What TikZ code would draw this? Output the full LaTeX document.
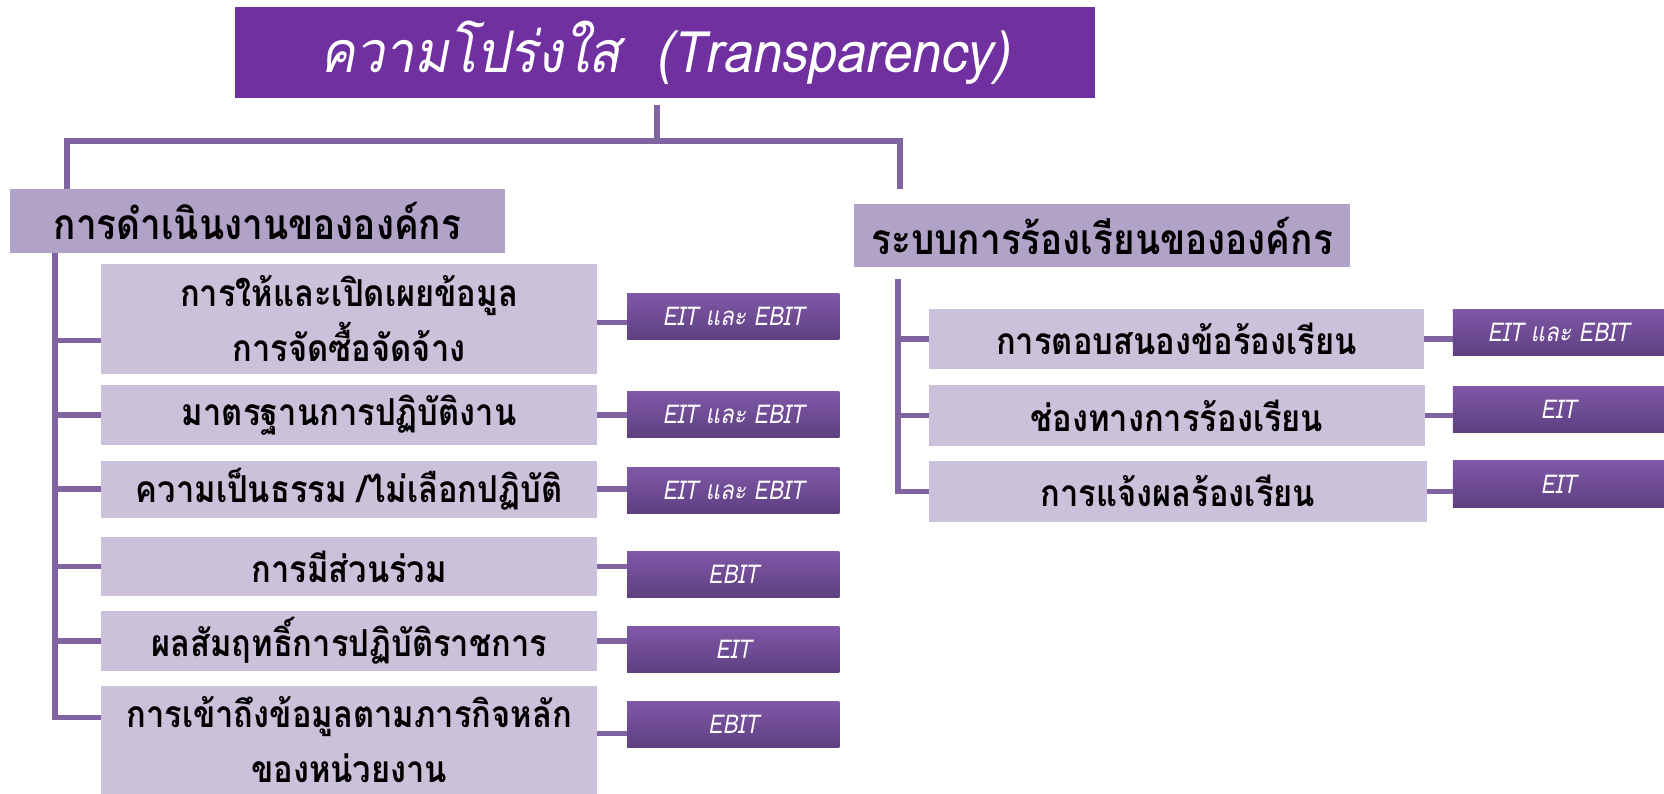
\documentclass[tikz,border=0pt]{standalone}
\usepackage{fontspec}
\newfontfamily\thaititle[Script=Thai,FakeStretch=0.91]{Loma}
\newfontfamily\thaigroup[Script=Thai,FakeStretch=0.87]{Loma}
\newfontfamily\thaiitem[Script=Thai,FakeStretch=0.88]{Loma}
\newfontfamily\thaitag[Script=Thai,FakeStretch=0.87]{Loma}
\usetikzlibrary{calc}
\definecolor{titlefill}{RGB}{112,48,160}
\definecolor{groupfill}{RGB}{177,162,199}
\definecolor{itemfill}{RGB}{204,193,218}
\definecolor{linecol}{RGB}{128,100,162}
\definecolor{tagtop}{RGB}{127,88,168}
\definecolor{tagbot}{RGB}{94,64,128}
\tikzset{
  bx/.style={inner sep=0pt, outer sep=0pt, align=center},
  titlebox/.style={bx, fill=titlefill, text=white, font=\thaititle\itshape\fontsize{27}{30}\selectfont},
  groupbox/.style={bx, fill=groupfill, text=black, font=\thaigroup\bfseries\fontsize{20}{24}\selectfont},
  itembox/.style={bx, fill=itemfill, text=black, font=\thaiitem\bfseries\fontsize{17.5}{26}\selectfont},
  tagbox/.style={bx, top color=tagtop, bottom color=tagbot, text=white, font=\thaitag\itshape\fontsize{12.2}{13}\selectfont, minimum width=100pt, minimum height=21.75pt},
  conn/.style={draw=linecol, line width=2.6pt}
}
\begin{document}
\begin{tikzpicture}[x=0.5pt,y=-0.5pt]
\useasboundingbox (0,0) rectangle (1568,748);
% title
\node[titlebox, minimum width=405.5pt, minimum height=42.5pt] (T) at (626.5,49.5) {ความโปร่งใส\ \ (Transparency)};
% groups
\node[groupbox, minimum width=233.5pt, minimum height=30pt] (LG) at (242.5,208) {การดำเนินงานขององค์กร};
\node[groupbox, minimum width=233.5pt, minimum height=30pt] (RG) at (1038.5,222) {ระบบการร้องเรียนขององค์กร};
% left items
\node[itembox, minimum width=234pt, minimum height=51.5pt] (L1) at (329,300.5) {การให้และเปิดเผยข้อมูล\\การจัดซื้อจัดจ้าง};
\node[itembox, minimum width=234pt, minimum height=28pt] (L2) at (329,391) {มาตรฐานการปฏิบัติงาน};
\node[itembox, minimum width=234pt, minimum height=27pt] (L3) at (329,461) {ความเป็นธรรม /ไม่เลือกปฏิบัติ};
\node[itembox, minimum width=234pt, minimum height=28pt] (L4) at (329,534) {การมีส่วนร่วม};
\node[itembox, minimum width=234pt, minimum height=28pt] (L5) at (329,604) {ผลสัมฤทธิ์การปฏิบัติราชการ};
\node[itembox, minimum width=234pt, minimum height=51pt] (L6) at (329,697) {การเข้าถึงข้อมูลตามภารกิจหลัก\\ของหน่วยงาน};
% left tags
\node[tagbox] (E1) at (691,298.5) {EIT และ EBIT};
\node[tagbox] (E2) at (691,390.5) {EIT และ EBIT};
\node[tagbox] (E3) at (691,462) {EIT และ EBIT};
\node[tagbox] (E4) at (691,541) {EBIT};
\node[tagbox] (E5) at (691,612) {EIT};
\node[tagbox] (E6) at (691,683) {EBIT};
% right items
\node[itembox, minimum width=233.5pt, minimum height=28.5pt] (R1) at (1108.5,319.5) {การตอบสนองข้อร้องเรียน};
\node[itembox, minimum width=234pt, minimum height=28.5pt] (R2) at (1109,391.5) {ช่องทางการร้องเรียน};
\node[itembox, minimum width=235pt, minimum height=28.75pt] (R3) at (1110,463) {การแจ้งผลร้องเรียน};
% right tags
\node[tagbox, minimum width=99.5pt] (RE1) at (1468.5,313) {EIT และ EBIT};
\node[tagbox, minimum width=99.5pt] (RE2) at (1468.5,385.5) {EIT};
\node[tagbox, minimum width=99.5pt] (RE3) at (1468.5,456) {EIT};
% top connectors
\coordinate (t0) at (619,99);
\coordinate (t1) at (619,133);
\coordinate (tl) at (63,133);
\coordinate (tr) at (848,133);
\coordinate (trb) at (848,178);
\draw[conn] (t0) -- (t1);
\draw[conn] (tl |- LG.north) -- (tl) -- (tr) -- (trb);
% left spine
\coordinate (ls) at (52,238);
\coordinate (L1t) at ([yshift=-10.25pt]L1.west);
\coordinate (L6t) at ([yshift=10.5pt]L6.west);
\draw[conn] (ls) |- (L6t);
\draw[conn] (ls |- L1t) -- (L1t);
\foreach \n in {L2,L3,L4,L5} \draw[conn] (ls |- \n.west) -- (\n.west);
% left item-to-tag
\coordinate (L1e) at ([yshift=-1.75pt]L1.east);
\coordinate (L6e) at ([yshift=3pt]L6.east);
\draw[conn] (L1e) -- (L1e -| E1.west);
\draw[conn] (L6e) -- (L6e -| E6.west);
\foreach \n/\m in {L2/E2,L3/E3,L4/E4,L5/E5} \draw[conn] (\n.east) -- (\n.east -| \m.west);
% right spine
\coordinate (rs) at (846,263);
\draw[conn] (rs) |- (R3.west);
\foreach \n in {R1,R2} \draw[conn] (rs |- \n.west) -- (\n.west);
\foreach \n/\m in {R1/RE1,R2/RE2,R3/RE3} \draw[conn] (\n.east) -- (\n.east -| \m.west);
\end{tikzpicture}
\end{document}
